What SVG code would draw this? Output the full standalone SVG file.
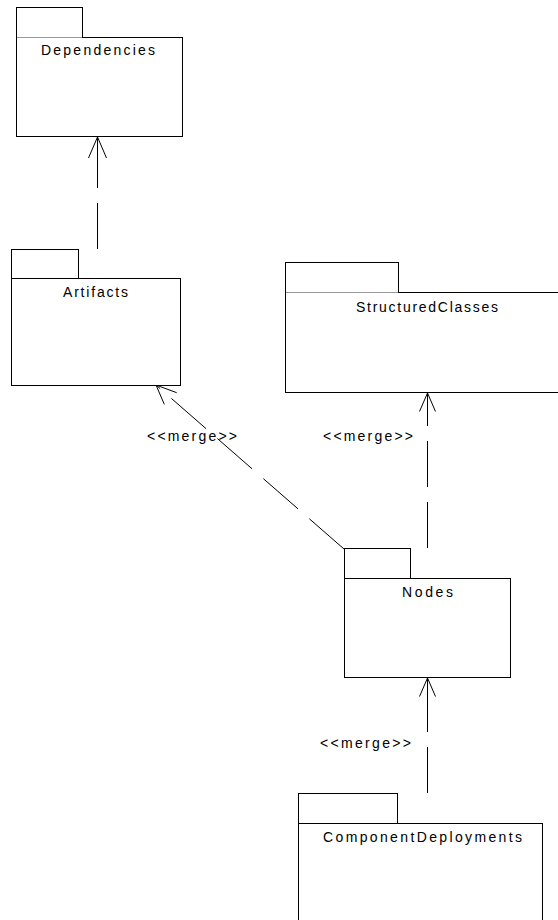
<svg xmlns="http://www.w3.org/2000/svg" width="558" height="920" viewBox="0 0 558 920">
<style>
  .box { fill: #ffffff; stroke: #000000; stroke-width: 1; }
  .tabline { stroke: #9a9a9a; stroke-width: 1; }
  .name { font-family: "Liberation Sans", Arial, sans-serif; font-size: 14px; fill: #000000; text-anchor: middle; }
  .lbl { font-family: "Liberation Sans", Arial, sans-serif; font-size: 14px; fill: #000000; }
  .dep { stroke: #000000; stroke-width: 1; fill: none; }
</style>
<rect x="0" y="0" width="558" height="920" fill="#ffffff"/>

<g id="connectors">
  <g id="c-artifacts-dependencies">
    <line class="dep" x1="97.5" y1="249" x2="97.5" y2="203"/>
    <line class="dep" x1="97.5" y1="188" x2="97.5" y2="137"/>
    <polyline class="dep" points="88.5,158 97.5,137 106.5,158"/>
  </g>
  <g id="c-nodes-artifacts">
    <line class="dep" x1="344" y1="549" x2="156" y2="385" stroke-dasharray="46 15"/>
    <polyline class="dep" points="176.7,392.7 156,385 164.3,404.3"/>
    <text class="lbl" x="147" y="441" textLength="90" lengthAdjust="spacing">&lt;&lt;merge&gt;&gt;</text>
  </g>
  <g id="c-nodes-structured">
    <line class="dep" x1="427.5" y1="548" x2="427.5" y2="502"/>
    <line class="dep" x1="427.5" y1="487" x2="427.5" y2="441"/>
    <line class="dep" x1="427.5" y1="426" x2="427.5" y2="393"/>
    <polyline class="dep" points="419.5,411.5 427.5,393 435.5,411.5"/>
    <text class="lbl" x="323" y="441" textLength="90" lengthAdjust="spacing">&lt;&lt;merge&gt;&gt;</text>
  </g>
  <g id="c-components-nodes">
    <line class="dep" x1="427.5" y1="793" x2="427.5" y2="747"/>
    <line class="dep" x1="427.5" y1="732" x2="427.5" y2="678"/>
    <polyline class="dep" points="419.5,696.5 427.5,678 435.5,696.5"/>
    <text class="lbl" x="320" y="748" textLength="91" lengthAdjust="spacing">&lt;&lt;merge&gt;&gt;</text>
  </g>
</g>

<g id="node-dependencies">
  <rect class="box" x="16.5" y="7.5" width="66" height="30"/>
  <rect class="box" x="16.5" y="37.5" width="166" height="99"/>
  <line class="tabline" x1="17" y1="37.5" x2="82" y2="37.5"/>
  <text class="name" x="98" y="55" textLength="114" lengthAdjust="spacing">Dependencies</text>
</g>

<g id="node-artifacts">
  <rect class="box" x="11.5" y="249.5" width="67" height="29"/>
  <rect class="box" x="11.5" y="278.5" width="169" height="107"/>
  <text class="name" x="95.5" y="297" textLength="65" lengthAdjust="spacing">Artifacts</text>
</g>

<g id="node-structuredclasses">
  <rect class="box" x="285.5" y="262.5" width="113" height="30"/>
  <rect class="box" x="285.5" y="292.5" width="280" height="100"/>
  <line class="tabline" x1="286" y1="292.5" x2="398" y2="292.5"/>
  <text class="name" x="427" y="312" textLength="142" lengthAdjust="spacing">StructuredClasses</text>
</g>

<g id="node-nodes">
  <rect class="box" x="344.5" y="548.5" width="66" height="30"/>
  <rect class="box" x="344.5" y="578.5" width="166" height="99"/>
  <text class="name" x="427.5" y="597" textLength="51" lengthAdjust="spacing">Nodes</text>
</g>

<g id="node-componentdeployments">
  <rect class="box" x="298.5" y="793.5" width="99" height="30"/>
  <rect class="box" x="298.5" y="823.5" width="244" height="110"/>
  <text class="name" x="422.5" y="842" textLength="199" lengthAdjust="spacing">ComponentDeployments</text>
</g>
</svg>
